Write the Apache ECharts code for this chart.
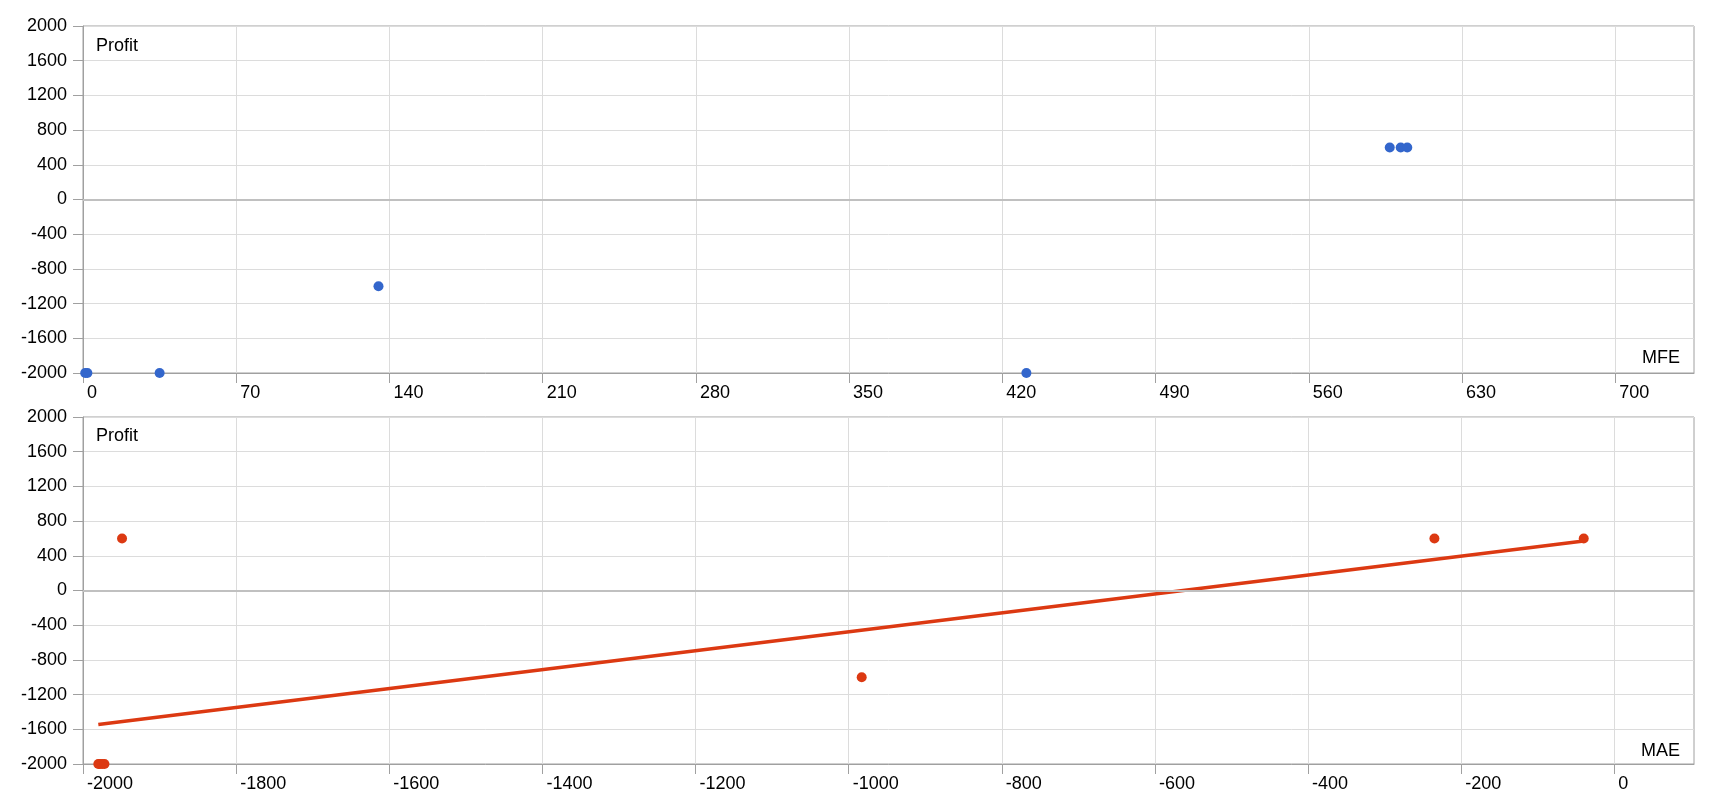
<!DOCTYPE html>
<html>
<head>
<meta charset="utf-8">
<script src="https://cdn.jsdelivr.net/npm/echarts@6/dist/echarts.min.js"></script>
<style>
  html, body { margin: 0; padding: 0; background: #fff; }
  #chart { width: 1720px; height: 800px; }
</style>
</head>
<body>
<div id="chart"></div>
<script>
// ---- data ----
const profit = [-2000, -2000, -2000, -2000, 600, -1000, 600, 600];
const mfe    = [2, 1, 35, 431, 597, 135, 602, 605];
const mae    = [-1980, -1978, -1975, -1972, -1949, -983, -235, -40];

const profitTicks = [-2000, -1600, -1200, -800, -400, 0, 400, 800, 1200, 1600, 2000];
const mfeTicks = [0, 70, 140, 210, 280, 350, 420, 490, 560, 630, 700];
const maeTicks = [-2000, -1800, -1600, -1400, -1200, -1000, -800, -600, -400, -200, 0];

// ---- linear trend (least squares) of profit on MAE ----
function linFit(xs, ys) {
  const n = xs.length;
  const mx = xs.reduce((a, b) => a + b, 0) / n;
  const my = ys.reduce((a, b) => a + b, 0) / n;
  let sxy = 0, sxx = 0;
  for (let i = 0; i < n; i++) { sxy += (xs[i] - mx) * (ys[i] - my); sxx += (xs[i] - mx) ** 2; }
  const k = sxy / sxx;
  return x => my + k * (x - mx);
}
const f = linFit(mae, profit);
const xMin = Math.min(...mae), xMax = Math.max(...mae);
const trend = [[xMin, f(xMin)], [xMax, f(xMax)]];

const FONT = 'Liberation Sans, Arial, sans-serif';
const TXT = '#000';
const AXIS = '#a0a0a0';
const GRIDC = '#dcdcdc';
const plain = v => String(v);

function xAxisCfg(idx, min, max, ticks) {
  return {
    type: 'value', gridIndex: idx, min: min, max: max,
    axisLine: { show: true, onZero: false, lineStyle: { color: AXIS } },
    axisTick: { show: true, length: 10, customValues: ticks, lineStyle: { color: AXIS } },
    axisLabel: { customValues: ticks, formatter: plain, align: 'left', margin: 11, padding: [0, 0, 0, 4],
                 color: TXT, fontFamily: FONT, fontSize: 18 },
    splitLine: { show: true, lineStyle: { color: GRIDC } }
  };
}
function yAxisCfg(idx) {
  return {
    type: 'value', gridIndex: idx, min: -2000, max: 2000, interval: 400,
    axisLine: { show: true, onZero: false, lineStyle: { color: AXIS } },
    axisTick: { show: true, length: 10, lineStyle: { color: AXIS } },
    axisLabel: { formatter: plain, margin: 16, color: TXT, fontFamily: FONT, fontSize: 18 },
    splitLine: { show: true, lineStyle: { color: GRIDC } }
  };
}
const zeroLine = {
  silent: true, symbol: 'none', label: { show: false },
  lineStyle: { color: '#c0c0c0', width: 2, type: 'solid' },
  data: [{ yAxis: 0 }]
};
const titleStyle = { fontSize: 18, fontWeight: 'normal', color: TXT, fontFamily: FONT };

const chart = echarts.init(document.getElementById('chart'), null, { renderer: 'canvas' });
chart.setOption({
  animation: false,
  backgroundColor: '#fff',
  textStyle: { fontFamily: FONT },
  grid: [
    { left: 83, top: 26, width: 1611, height: 347, show: true, borderColor: AXIS, borderWidth: 1 },
    { left: 83, top: 417, width: 1611, height: 347, show: true, borderColor: AXIS, borderWidth: 1 }
  ],
  title: [
    { text: 'Profit', left: 96, top: 37, padding: 0, textStyle: titleStyle },
    { text: 'MFE', right: 40, top: 349, padding: 0, textStyle: titleStyle },
    { text: 'Profit', left: 96, top: 427, padding: 0, textStyle: titleStyle },
    { text: 'MAE', right: 40, top: 742, padding: 0, textStyle: titleStyle }
  ],
  xAxis: [
    xAxisCfg(0, 0, 736, mfeTicks),
    xAxisCfg(1, -2000, 104, maeTicks)
  ],
  yAxis: [ yAxisCfg(0), yAxisCfg(1) ],
  series: [
    {
      type: 'scatter', xAxisIndex: 0, yAxisIndex: 0, symbolSize: 10,
      itemStyle: { color: '#3366CC', opacity: 1 },
      data: mfe.map((v, i) => [v, profit[i]]),
      markLine: zeroLine, z: 3
    },
    {
      type: 'line', xAxisIndex: 1, yAxisIndex: 1, showSymbol: false, symbol: 'none',
      lineStyle: { color: '#DC3912', width: 3.5 }, data: trend, z: 2
    },
    {
      type: 'scatter', xAxisIndex: 1, yAxisIndex: 1, symbolSize: 10,
      itemStyle: { color: '#DC3912', opacity: 1 },
      data: mae.map((v, i) => [v, profit[i]]),
      markLine: zeroLine, z: 3
    }
  ]
});
</script>
</body>
</html>
